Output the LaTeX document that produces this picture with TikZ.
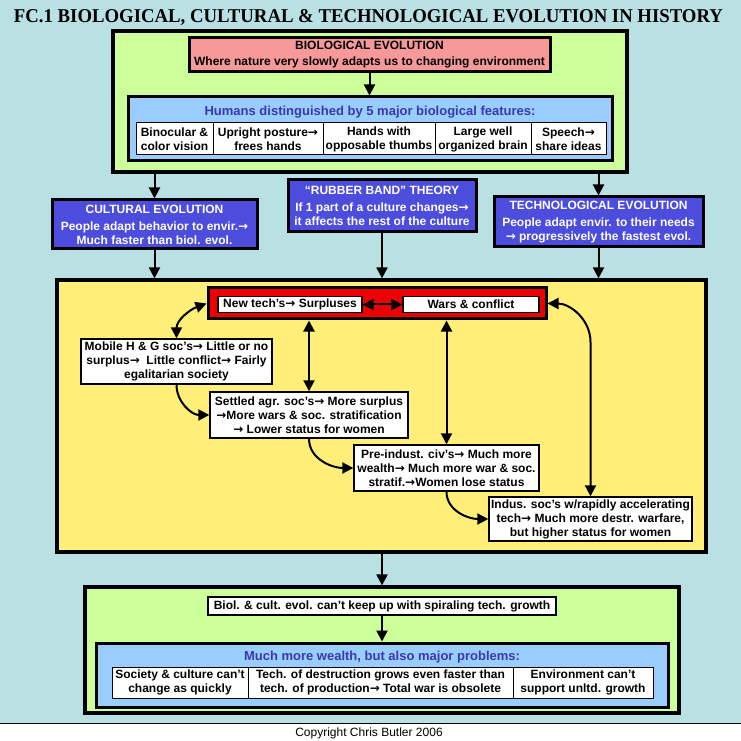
\documentclass[tikz,border=0pt]{standalone}
\usepackage{fontspec}
\setmainfont{Liberation Sans}
\newfontfamily\titlefont{Liberation Serif}
\newfontfamily\arrowfont{DejaVu Sans}
\usetikzlibrary{arrows.meta}
\definecolor{bgteal}{RGB}{185,224,226}
\definecolor{lgreen}{RGB}{204,255,153}
\definecolor{pinkbox}{RGB}{247,153,153}
\definecolor{lblue}{RGB}{153,204,255}
\definecolor{vio}{RGB}{76,76,221}
\definecolor{hdrblue}{RGB}{58,58,168}
\definecolor{ylw}{RGB}{255,238,119}
\definecolor{redbox}{RGB}{238,0,0}
\newcommand{\ra}{{\arrowfont\bfseries →}}
\begin{document}
\begin{tikzpicture}[x=1pt,y=1pt,
  body/.style={font=\fontsize{12}{14}\selectfont\bfseries, align=center},
  bigbox/.style={draw=black, line width=3.2pt, inner sep=0pt},
  vbox/.style={draw=black, line width=3pt, fill=vio, text=white, body, inner sep=0pt},
  wbox/.style={draw=black, line width=1.4pt, fill=white, body, inner sep=0pt},
  cell/.style={draw=black, line width=1pt, fill=white, body, inner sep=0pt},
  hdr/.style={font=\fontsize{13}{15}\selectfont\bfseries, text=hdrblue, inner sep=0pt},
  arr/.style={line width=2pt, -{Triangle[length=11pt,width=11pt]}},
  darr/.style={line width=2pt, {Triangle[length=11pt,width=11pt]}-{Triangle[length=11pt,width=11pt]}}
]
\useasboundingbox (0,0) rectangle (741,740);
\fill[bgteal] (0,0) rectangle (741,740);
\fill[white] (0,0) rectangle (741,17);
\draw[line width=0.8pt] (0,17) -- (741,17);

% title
\node[anchor=base, inner sep=0pt] (title) at (368.5,717.5)
  {\resizebox{709pt}{13pt}{\titlefont\bfseries FC.1 BIOLOGICAL, CULTURAL \& TECHNOLOGICAL EVOLUTION IN HISTORY}};

% top green block
\node[bigbox, fill=lgreen, minimum width=514, minimum height=141] (topg) at (370,638.5) {};
\node[draw=black, line width=3pt, fill=pinkbox, body, inner sep=0pt, minimum width=361, minimum height=34] (pink) at (369.5,685)
  {BIOLOGICAL EVOLUTION\\[2pt] Where nature very slowly adapts us to changing environment};
\node[bigbox, line width=3pt, fill=lblue, minimum width=484, minimum height=64] (blue) at (370,611) {};
\node[hdr] (hum) at (370,628) {Humans distinguished by 5 major biological features:};
\node[cell, minimum width=77, minimum height=32] (c1) at (174.5,601) {Binocular \&\\ color vision};
\node[cell, minimum width=110, minimum height=32] (c2) at (268,601) {Upright posture\ra\\ frees hands};
\node[cell, minimum width=112, minimum height=32] (c3) at (379,601) {Hands with\\ opposable thumbs};
\node[cell, minimum width=96, minimum height=32] (c4) at (483,601) {Large well\\ organized brain};
\node[cell, minimum width=75, minimum height=32] (c5) at (568.5,601) {Speech\ra\\ share ideas};
\draw[arr] (pink.south) -- (pink.south |- blue.north);

% three violet boxes
\node[vbox, minimum width=205, minimum height=49] (cult) at (154.5,515.5)
  {CULTURAL EVOLUTION\\[3pt] People adapt behavior to envir.\ra\\ Much faster than biol. evol.};
\node[vbox, minimum width=188, minimum height=52] (rubber) at (382,534)
  {“RUBBER BAND” THEORY\\[3pt] If 1 part of a culture changes\ra\\ it affects the rest of the culture};
\node[vbox, minimum width=209, minimum height=50] (tech) at (598.5,518)
  {TECHNOLOGICAL EVOLUTION\\[3pt] People adapt envir. to their needs\\ \ra\ progressively the fastest evol.};

% yellow block
\node[bigbox, fill=ylw, minimum width=649, minimum height=272] (yel) at (381.5,324) {};
\node[draw=black, line width=3pt, fill=redbox, minimum width=338, minimum height=31, inner sep=0pt] (red) at (377,436.5) {};
\node[wbox, line width=1.2pt, minimum width=144, minimum height=16] (newtech) at (290,435.5) {New tech's\ra\ Surpluses};
\node[wbox, line width=1.2pt, minimum width=136, minimum height=16] (wars) at (471,435.5) {Wars \& conflict};
\node[wbox, minimum width=191, minimum height=45] (mobile) at (176.5,378.5)
  {Mobile H \& G soc's\ra\ Little or no\\ surplus\ra\ \ Little conflict\ra\ Fairly\\ egalitarian society};
\node[wbox, minimum width=198, minimum height=46] (settled) at (309,325)
  {Settled agr. soc's\ra\ More surplus\\ \ra More wars \& soc. stratification\\ \ra\ Lower status for women};
\node[wbox, minimum width=185, minimum height=46] (preind) at (446.5,272)
  {Pre-indust. civ's\ra\ Much more\\ wealth\ra\ Much more war \& soc.\\ stratif.\ra Women lose status};
\node[wbox, minimum width=203, minimum height=44] (indus) at (590.5,221)
  {Indus. soc's w/rapidly accelerating\\ tech\ra\ Much more destr. warfare,\\ but higher status for women};
\coordinate (rbend) at (590.5,398);

% bottom green block
\node[bigbox, fill=lgreen, minimum width=594, minimum height=126] (botg) at (382,90) {};
\node[wbox, minimum width=348, minimum height=18] (biol) at (382,134)
  {Biol. \& cult. evol. can't keep up with spiraling tech. growth};
\node[bigbox, line width=3pt, fill=lblue, minimum width=572, minimum height=64] (blue2) at (382,65) {};
\node[hdr] (much) at (382,83) {Much more wealth, but also major problems:};
\node[cell, minimum width=136, minimum height=31] (d1) at (180,57.5) {Society \& culture can't\\ change as quickly};
\node[cell, minimum width=265, minimum height=31] (d2) at (380.5,57.5) {Tech. of destruction grows even faster than\\ tech. of production\ra\ Total war is obsolete};
\node[cell, minimum width=140, minimum height=31] (d3) at (583,57.5) {Environment can't\\ support unltd. growth};

% connectors
\draw[arr] (cult.north |- topg.south) -- (cult.north);
\draw[arr] (tech.north |- topg.south) -- (tech.north);
\draw[arr] (cult.south) -- (cult.south |- yel.north);
\draw[arr] (rubber.south) -- (rubber.south |- yel.north);
\draw[arr] (tech.south) -- (tech.south |- yel.north);
\draw[darr] (newtech.east) -- (wars.west);
\draw[darr] (red.west) to[out=200,in=90] (mobile.north);
\draw[darr] (settled.north |- red.south) -- (settled.north);
\draw[darr] (preind.north |- red.south) -- (preind.north);
\draw[darr] (red.east) to[out=0,in=90] (rbend) -- (indus.north);
\draw[arr] (mobile.south) to[out=-90,in=180] (settled.west);
\draw[arr] (settled.south) to[out=-90,in=180] (preind.west);
\draw[arr] (preind.south) to[out=-90,in=180] (indus.west);
\draw[arr] (botg.north |- yel.south) -- (botg.north);
\draw[arr] (biol.south) -- (blue2.north);

% copyright
\node[anchor=base, font=\fontsize{12}{14}\selectfont, inner sep=0pt] (copy) at (369,4) {Copyright Chris Butler 2006};
\end{tikzpicture}
\end{document}
